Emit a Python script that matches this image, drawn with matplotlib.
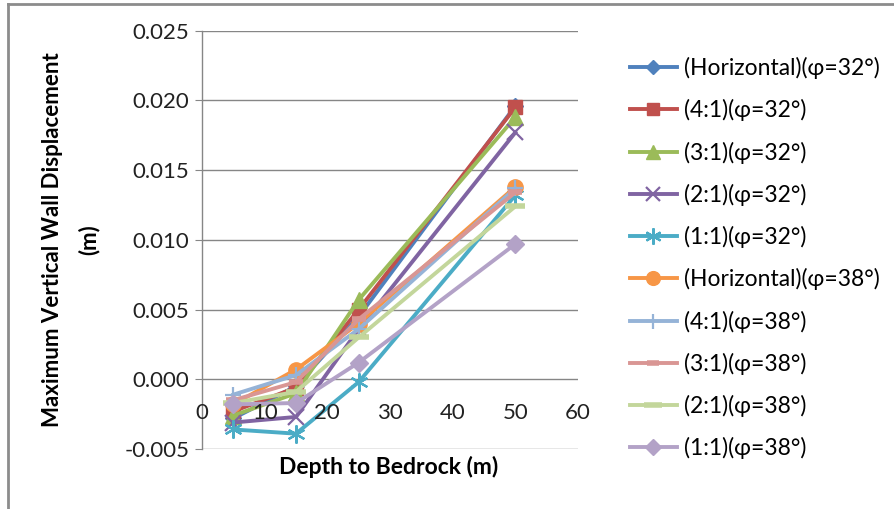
import matplotlib
matplotlib.use("Agg")
import matplotlib.pyplot as plt
from matplotlib.lines import Line2D

plt.rcParams['font.family'] = ['Lato', 'DejaVu Sans']

# Depth to bedrock (m)
depth = [5, 15, 25, 50]

# Maximum vertical wall displacement (m), one list per slope / friction angle
horiz_32 = [-0.0028, -0.0005, 0.0045, 0.0196]
r41_32 = [-0.0023, -0.0006, 0.0050, 0.0195]
r31_32 = [-0.0026, -0.0010, 0.0057, 0.0188]
r21_32 = [-0.0031, -0.0027, 0.0036, 0.0177]
r11_32 = [-0.0036, -0.0039, -0.0002, 0.0132]
horiz_38 = [-0.0018, 0.0007, 0.0040, 0.0138]
r41_38 = [-0.0011, 0.0003, 0.0036, 0.0137]
r31_38 = [-0.0015, -0.0002, 0.0043, 0.0134]
r21_38 = [-0.0017, -0.0009, 0.0030, 0.0124]
r11_38 = [-0.0018, -0.0017, 0.0012, 0.0097]

labels = ["(Horizontal)(φ=32°)", "(4:1)(φ=32°)", "(3:1)(φ=32°)", "(2:1)(φ=32°)",
          "(1:1)(φ=32°)", "(Horizontal)(φ=38°)", "(4:1)(φ=38°)", "(3:1)(φ=38°)",
          "(2:1)(φ=38°)", "(1:1)(φ=38°)"]
series = [horiz_32, r41_32, r31_32, r21_32, r11_32,
          horiz_38, r41_38, r31_38, r21_38, r11_38]

x_ticks = [0, 10, 20, 30, 40, 50, 60]
y_ticks = [-0.005, 0.000, 0.005, 0.010, 0.015, 0.020, 0.025]

colors = ["#4F81BD", "#C0504D", "#9BBB59", "#8064A2", "#4BACC6",
          "#F79646", "#95B3D7", "#D99694", "#C3D69B", "#B3A2C7"]
styles = [
    dict(marker="D", markersize=8),
    dict(marker="s", markersize=10),
    dict(marker="^", markersize=11),
    dict(marker="x", markersize=11, markeredgewidth=1.6),
    dict(marker=(6, 2, 0), markersize=13, markeredgewidth=1.6),
    dict(marker="o", markersize=11),
    dict(marker="+", markersize=12, markeredgewidth=1.6),
    dict(marker="_", markersize=10, markeredgewidth=4),
    dict(marker="_", markersize=14, markeredgewidth=4),
    dict(marker="D", markersize=9),
]

fig = plt.figure(figsize=(8.95, 5.09), dpi=100)
ax = fig.add_axes([202 / 895, 1 - 449 / 509, (578 - 202) / 895, (449 - 30.7) / 509])

grid_c = "#868686"
for yv in y_ticks:
    ax.axhline(yv, color=grid_c, lw=1.0, zorder=0)

handles = []
for vals, lab, c, st in zip(series, labels, colors, styles):
    ln, = ax.plot(depth, vals, color=c, lw=2.8, markerfacecolor=c,
                  markeredgecolor=c, label=lab, solid_joinstyle="round",
                  clip_on=False, **st)
    handles.append(ln)

ax.set_xlim(0, 60)
ax.set_ylim(-0.005, 0.025)
for s in ["top", "right", "bottom"]:
    ax.spines[s].set_visible(False)
ax.spines["left"].set_color(grid_c)
ax.spines["left"].set_linewidth(1.0)

ax.set_yticks(y_ticks)
ax.set_yticklabels([f"{v:.3f}" for v in y_ticks], fontsize=16, color="#222222")
ax.tick_params(axis="y", length=5, color=grid_c, pad=4)

# x tick labels sit just below the zero line, where the horizontal axis crosses
ax.set_xticks([])
for xv in x_ticks:
    ax.annotate(str(xv), xy=(xv, 0), xytext=(0, -24), textcoords="offset points",
                ha="center", va="center", fontsize=16, color="#222222",
                annotation_clip=False)

ax.set_xlabel("Depth to Bedrock (m)", fontsize=16.5, fontweight="bold")
ax.xaxis.set_label_coords((389 - 202) / (578 - 202), -(467 - 449) / (449 - 30.7))
ax.xaxis.label.set_va("center")
fig.text(53 / 895, 1 - 240 / 509, "Maximum Vertical Wall Displacement",
         rotation=90, ha="center", va="center", fontsize=16, fontweight="bold")
fig.text(89 / 895, 1 - 240 / 509, "(m)",
         rotation=90, ha="center", va="center", fontsize=16, fontweight="bold")

leg_handles = [Line2D([0], [0], color=h.get_color(), lw=2.8,
                      marker=h.get_marker(), markersize=h.get_markersize() * 0.9,
                      markerfacecolor=h.get_color(), markeredgecolor=h.get_color(),
                      markeredgewidth=h.get_markeredgewidth())
               for h in handles]
fig.legend(leg_handles, labels, loc="upper left",
           bbox_to_anchor=(630 / 895, 1 - 57 / 509), frameon=False,
           fontsize=16.5, labelspacing=0.88, handlelength=2.05, handletextpad=0.3,
           borderaxespad=0, borderpad=0)

# outer chart frame (left and top edges)
fig.add_artist(Line2D([8 / 895, 8 / 895], [0, 1 - 4 / 509], color="#8C8C8C",
                      lw=2, transform=fig.transFigure))
fig.add_artist(Line2D([8 / 895, 1], [1 - 4 / 509, 1 - 4 / 509], color="#8C8C8C",
                      lw=2, transform=fig.transFigure))

fig.savefig("out.png", dpi=100)
